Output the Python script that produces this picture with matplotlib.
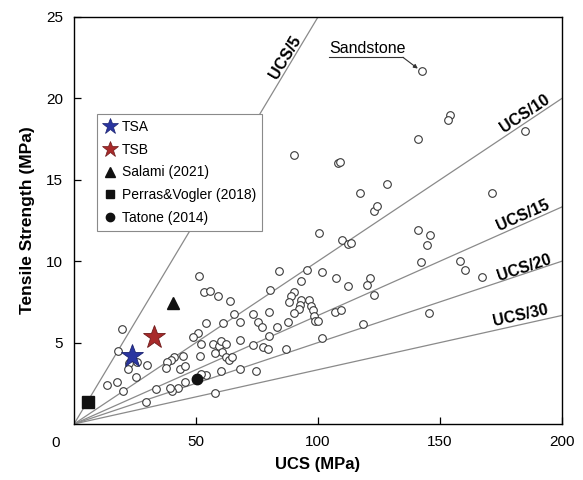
import numpy as np
import matplotlib
matplotlib.use("Agg")
from matplotlib import pyplot as plt
from matplotlib.lines import Line2D

plt.rcParams['font.family'] = ['Liberation Sans', 'DejaVu Sans']

# literature data (open circles)
ucs_lit = [142.5, 154.1, 153.3, 185.0, 141.1, 108.3, 109.0, 90.3, 128.1, 117.2,
           171.2, 123.0, 124.0, 100.4, 110.0, 112.4, 113.4, 140.8, 146.0, 144.7,
           142.1, 158.0, 160.2, 167.3, 95.6, 101.6, 107.2, 112.4, 121.2, 120.0,
           123.0, 106.8, 109.3, 118.6, 145.5, 101.5, 92.9, 96.1, 97.0, 97.8,
           98.3, 98.7, 100.0, 92.9, 92.6, 92.2, 90.2, 84.1, 80.2, 90.2,
           88.8, 88.1, 79.9, 73.5, 75.5, 77.2, 83.1, 87.6, 51.2, 53.4,
           55.7, 58.9, 63.9, 65.6, 54.1, 60.9, 68.0, 51.0, 48.6, 51.9,
           51.6, 57.1, 59.6, 60.2, 62.2, 60.7, 57.8, 62.2, 63.5, 64.8,
           68.0, 73.2, 77.6, 79.8, 79.6, 86.8, 74.5, 68.2, 60.4, 54.1,
           51.9, 57.9, 45.4, 42.5, 40.3, 39.3, 33.7, 29.5, 43.4, 45.5,
           44.5, 41.0, 39.6, 38.3, 37.7, 30.0, 25.4, 26.0, 22.4, 22.3,
           17.8, 13.5, 20.0, 17.9, 19.8]
ts_lit = [21.7, 19.0, 18.7, 18.0, 17.5, 16.05, 16.1, 16.5, 14.76, 14.2,
          14.2, 13.1, 13.4, 11.7, 11.3, 11.06, 11.14, 11.9, 11.6, 11.0,
          9.95, 10.03, 9.48, 9.03, 9.44, 9.34, 8.95, 8.46, 8.99, 8.52,
          7.92, 6.86, 6.98, 6.12, 6.84, 5.28, 8.78, 7.6, 7.27, 6.98,
          6.65, 6.34, 6.34, 7.62, 7.33, 7.05, 6.84, 9.42, 8.25, 8.13,
          7.88, 7.47, 6.9, 6.74, 6.29, 5.94, 5.98, 6.25, 9.09, 8.11,
          8.17, 7.86, 7.58, 6.76, 6.22, 6.22, 6.29, 5.61, 5.34, 4.91,
          4.2, 4.91, 4.79, 5.12, 4.89, 4.44, 4.38, 4.14, 3.91, 4.14,
          5.16, 4.87, 4.75, 5.4, 4.6, 4.63, 3.26, 3.4, 3.26, 3.01,
          3.05, 1.88, 2.6, 2.19, 2.05, 2.23, 2.17, 1.33, 3.36, 3.56,
          4.2, 4.14, 3.93, 3.83, 3.42, 3.64, 2.91, 3.79, 3.73, 3.36,
          2.6, 2.4, 2.05, 4.5, 5.85]

tsa = (23.9, 4.18)
tsb = (32.9, 5.36)
salami = (40.7, 7.45)
perras = (5.9, 1.33)
tatone = (50.3, 2.74)

# reference lines (ratio as drawn) and their labels
line_ratio = [4, 10, 15, 20, 30]
line_text = ['UCS/5', 'UCS/10', 'UCS/15', 'UCS/20', 'UCS/30']
label_x = [86.5, 184.6, 184.0, 184.4, 182.8]
label_y = [22.5, 19.07, 12.8, 9.61, 6.66]

blue = '#2a35a0'
red = '#a82a2a'

fig = plt.figure(figsize=(5.83, 4.80), dpi=100)
ax = fig.add_axes([0.127, 0.1167, 0.837, 0.848])
ax.set_xlim(0, 200)
ax.set_ylim(0, 25)

xx = np.array([0, 200])
for r in line_ratio:
    ax.plot(xx, xx / r, color='#8a8a8a', lw=0.9, zorder=1)

for t, lx, ly, r in zip(line_text, label_x, label_y, line_ratio):
    ax.text(lx, ly, t, rotation=np.degrees(np.arctan2(1, r)),
            transform_rotates_text=True, rotation_mode='anchor',
            ha='center', va='center', fontsize=11.5, fontweight='bold')

ax.plot(ucs_lit, ts_lit, 'o', ms=5.5, mfc='white', mec='#3a3a3a', mew=0.8,
        ls='none', zorder=2)

ax.plot(*tsa, '*', ms=17, color=blue, mec='#1a2270', mew=0.6, ls='none', zorder=4)
ax.plot(*tsb, '*', ms=17, color=red, mec='#6e1a1a', mew=0.6, ls='none', zorder=4)
ax.plot(*salami, '^', ms=8, color='#111111', ls='none', zorder=4)
ax.plot(*perras, 's', ms=8, color='#111111', ls='none', zorder=4)
ax.plot(*tatone, 'o', ms=7.5, color='#111111', ls='none', zorder=4)

# sandstone callout
ax.text(104.5, 23.07, 'Sandstone', ha='left', va='center', fontsize=11.5)
ax.plot([104.5, 134.8], [22.52, 22.52], color='#333333', lw=0.8)
ax.annotate('', xy=(140.9, 21.83), xytext=(134.8, 22.52),
            arrowprops=dict(arrowstyle='-|>', lw=0.8, color='#333333',
                            mutation_scale=6, shrinkA=0, shrinkB=0))

handles = [
    Line2D([], [], marker='*', ms=12, color=blue, mec='#1a2270', mew=0.5, ls='none'),
    Line2D([], [], marker='*', ms=12, color=red, mec='#6e1a1a', mew=0.5, ls='none'),
    Line2D([], [], marker='^', ms=6.5, color='#111111', ls='none'),
    Line2D([], [], marker='s', ms=6, color='#111111', ls='none'),
    Line2D([], [], marker='o', ms=6, color='#111111', ls='none'),
]
labels = ['TSA', 'TSB', 'Salami (2021)', 'Perras&Vogler (2018)', 'Tatone (2014)']
leg = ax.legend(handles, labels, loc='upper left', bbox_to_anchor=(0.0477, 0.7617),
                borderaxespad=0, fontsize=10, handlelength=0.9,
                handletextpad=0.4, labelspacing=0.62, borderpad=0.45,
                fancybox=False, framealpha=1, edgecolor='#8a8a8a')
leg.get_frame().set_linewidth(0.8)
leg.set_zorder(5)

ax.set_xticks([50, 100, 150, 200])
ax.set_yticks([5, 10, 15, 20, 25])
ax.tick_params(direction='in', length=5, width=0.9, labelsize=11, pad=8)
ax.text(-0.037, -0.047, '0', transform=ax.transAxes, ha='center',
        va='center', fontsize=11)
for s in ax.spines.values():
    s.set_linewidth(1.0)

ax.set_xlabel('UCS (MPa)', fontsize=12, fontweight='bold', labelpad=6)
ax.set_ylabel('Tensile Strength (MPa)', fontsize=12.5, fontweight='bold',
              labelpad=8)

fig.savefig('out.png', dpi=100)
